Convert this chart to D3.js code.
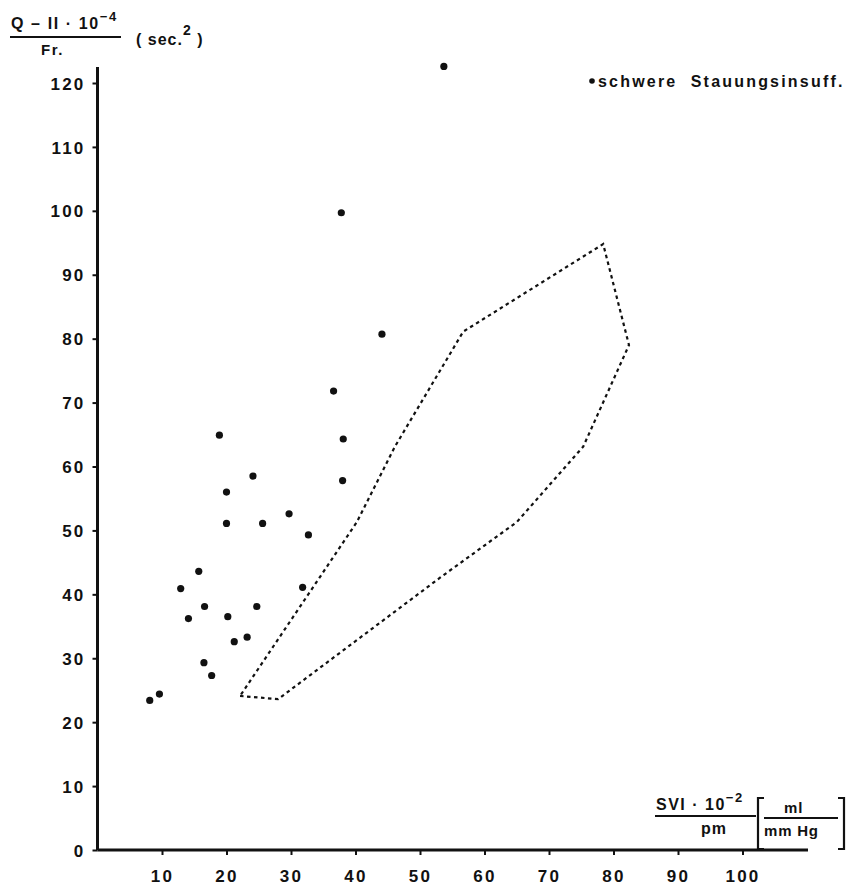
<!DOCTYPE html>
<html>
<head>
<meta charset="utf-8">
<script src="https://cdn.jsdelivr.net/npm/d3@7"></script>
<style>
  body { margin: 0; background: #fff; }
  text { font-family: "Liberation Sans", Arial, sans-serif; font-weight: bold; fill: #111; }
</style>
</head>
<body>
<div id="chart"></div>
<script>
// patients with severe congestive insufficiency
const svi = [53.7, 37.8, 44.1, 36.6, 38.1, 38.0, 18.9, 24.1, 20.0, 20.0, 25.6, 29.7,
  32.7, 15.7, 12.9, 31.8, 16.6, 14.1, 24.7, 20.2, 21.2, 23.2, 16.5, 17.7, 9.6, 8.1];
const qValues = [122.6, 99.7, 80.7, 71.8, 64.3, 57.8, 64.9, 58.5, 56.0, 51.1, 51.1, 52.6,
  49.3, 43.6, 40.9, 41.1, 38.1, 36.2, 38.1, 36.5, 32.6, 33.3, 29.3, 27.3, 24.4, 23.4];

// outline of the normal range (dotted polygon)
const normalX = [22.1, 28.0, 53.1, 65.0, 75.3, 82.4, 78.4, 56.7, 46.1, 40.2];
const normalY = [24.1, 23.6, 42.6, 51.3, 63.1, 79.0, 94.8, 81.1, 63.1, 51.3];

const xTicks = [10, 20, 30, 40, 50, 60, 70, 80, 90, 100];
const yTicks = [0, 10, 20, 30, 40, 50, 60, 70, 80, 90, 100, 110, 120];
const legendLabel = "schwere  Stauungsinsuff.";

const width = 849;
const height = 891;

const x = d3.scaleLinear().domain([0, 100]).range([97.5, 742.5]);
const y = d3.scaleLinear().domain([0, 120]).range([850, 83]);

const svg = d3.select("#chart")
  .append("svg")
  .attr("width", width)
  .attr("height", height);

// axes
const xAxis = svg.append("g")
  .attr("transform", `translate(0,${y(0)})`)
  .call(d3.axisBottom(x).tickValues(xTicks).tickSize(5).tickPadding(15).tickFormat(d3.format("d")));
xAxis.select(".domain").attr("d", `M${x(0)},0H808`);

const yAxis = svg.append("g")
  .attr("transform", `translate(${x(0)},0)`)
  .call(d3.axisLeft(y).tickValues(yTicks).tickSize(5).tickPadding(7).tickFormat(d3.format("d")));
yAxis.select(".domain").attr("d", `M0,67V${y(0)}`);

svg.selectAll(".domain").attr("stroke", "#111").attr("stroke-width", 3);
svg.selectAll(".tick line").attr("stroke", "#111").attr("stroke-width", 2);
svg.selectAll(".tick text")
  .attr("font-family", "Liberation Sans, Arial, sans-serif")
  .attr("font-weight", "bold")
  .attr("font-size", 17)
  .attr("letter-spacing", 2.2)
  .attr("fill", "#111");
yAxis.selectAll(".tick text").attr("dy", "0.36em");

// normal range outline
const hull = normalX.map((d, i) => [x(d), y(normalY[i])]);
svg.append("path")
  .attr("d", d3.line().curve(d3.curveLinearClosed)(hull))
  .attr("fill", "none")
  .attr("stroke", "#111")
  .attr("stroke-width", 2.2)
  .attr("stroke-dasharray", "3.5,3.5");

// points
svg.append("g")
  .selectAll("circle")
  .data(svi)
  .enter().append("circle")
  .attr("cx", d => x(d))
  .attr("cy", (d, i) => y(qValues[i]))
  .attr("r", 3.6)
  .attr("fill", "#111");

// legend
svg.append("circle").attr("cx", 592).attr("cy", 81).attr("r", 2.8).attr("fill", "#111");
svg.append("text")
  .attr("x", 598).attr("y", 87)
  .attr("font-size", 16)
  .attr("letter-spacing", 2.2)
  .attr("xml:space", "preserve")
  .style("white-space", "pre")
  .text(legendLabel);

// y axis title: (Q - II * 10^-4) / Fr. (sec.^2)
const yTitle = svg.append("g");
const num = yTitle.append("text").attr("x", 11).attr("y", 29).attr("font-size", 16).attr("letter-spacing", 1.6)
  .attr("xml:space", "preserve").style("white-space", "pre");
num.append("tspan").text("Q – II · 10");
num.append("tspan").attr("dy", -8).attr("font-size", 13).text("−4");
yTitle.append("line")
  .attr("x1", 10).attr("x2", 121).attr("y1", 37).attr("y2", 37)
  .attr("stroke", "#111").attr("stroke-width", 1.8);
yTitle.append("text").attr("x", 41).attr("y", 55).attr("font-size", 15).attr("font-weight", "normal")
  .attr("letter-spacing", 1.5).text("Fr.");
const unit = yTitle.append("text").attr("x", 136).attr("y", 45).attr("font-size", 16).attr("letter-spacing", 1);
unit.append("tspan").text("( sec.");
unit.append("tspan").attr("dy", -10).attr("font-size", 14).text("2");
unit.append("tspan").attr("dy", 10).text(" )");

// x axis title: (SVI * 10^-2) / pm [ml / mm Hg]
const xTitle = svg.append("g");
const xnum = xTitle.append("text").attr("x", 656).attr("y", 810).attr("font-size", 16).attr("letter-spacing", 1.5);
xnum.append("tspan").text("SVI · 10");
xnum.append("tspan").attr("dy", -8).attr("font-size", 13).text("−2");
xTitle.append("line")
  .attr("x1", 655).attr("x2", 756).attr("y1", 816).attr("y2", 816)
  .attr("stroke", "#111").attr("stroke-width", 1.8);
xTitle.append("text").attr("x", 701).attr("y", 834).attr("font-size", 16).attr("letter-spacing", 1).text("pm");
xTitle.append("path")
  .attr("d", "M764,798H758V849H764M838,798H844V849H838")
  .attr("fill", "none").attr("stroke", "#111").attr("stroke-width", 2.2);
xTitle.append("text").attr("x", 784).attr("y", 813).attr("font-size", 15).attr("letter-spacing", 1).text("ml");
xTitle.append("line")
  .attr("x1", 764).attr("x2", 838).attr("y1", 818).attr("y2", 818)
  .attr("stroke", "#111").attr("stroke-width", 1.8);
xTitle.append("text").attr("x", 764).attr("y", 836).attr("font-size", 15).attr("letter-spacing", 0.8).text("mm Hg");
</script>
</body>
</html>
